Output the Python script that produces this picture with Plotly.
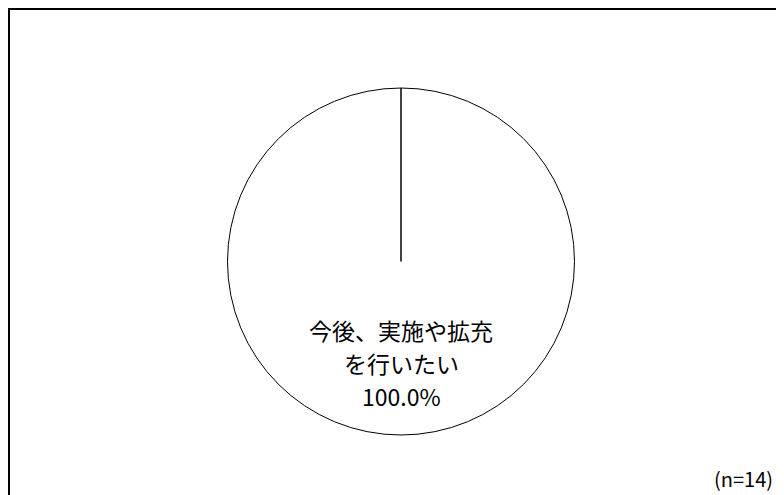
import plotly.graph_objects as go

categories = ["今後、実施や拡充を行いたい"]
values = [100.0]
label_lines = ["今後、実施や拡充", "を行いたい", "100.0%"]
sample_note = "(n=14)"

# page body adds an 8px offset; figure pixel = window pixel - 8
W, H = 784, 495
ML, MR, MT, MB = 2, 0, 80, 68

fig = go.Figure(go.Pie(
    labels=categories,
    values=values,
    sort=False,
    direction="clockwise",
    rotation=0,
    marker=dict(colors=["#ffffff"], line=dict(color="#000000", width=1)),
    textinfo="none",
    hoverinfo="label+percent",
    showlegend=False,
    domain=dict(x=[0, 1], y=[0, 1]),
))

font = "Noto Sans CJK JP, sans-serif"
plot_w = W - ML - MR
plot_h = H - MT - MB


def px_x(p):
    return (p - ML) / plot_w


def px_y(p):
    return (H - MB - p) / plot_h


ys = [322, 355, 388]
annotations = []
for line, ypix in zip(label_lines, ys):
    annotations.append(dict(
        text=line, x=0.5, xref="paper", y=px_y(ypix), yref="paper",
        showarrow=False, xanchor="center", yanchor="middle",
        font=dict(family=font, size=23, color="#000000"),
    ))
annotations.append(dict(
    text=sample_note, x=px_x(767), xref="paper",
    y=px_y(470), yref="paper",
    showarrow=False, xanchor="right", yanchor="middle",
    font=dict(family=font, size=20, color="#000000"),
))

shapes = [
    # slice boundary from pie centre to top
    dict(type="line", xref="paper", yref="paper", x0=0.5, x1=0.5, y0=0.5, y1=1.0,
         line=dict(color="#000000", width=1.5)),
    # outer frame
    dict(type="rect", xref="paper", yref="paper",
         x0=px_x(1), x1=px_x(W + 20),
         y0=px_y(H + 20), y1=px_y(1),
         line=dict(color="#000000", width=2), fillcolor="rgba(0,0,0,0)", layer="above"),
]

fig.update_layout(
    width=W, height=H,
    margin=dict(l=ML, r=MR, t=MT, b=MB),
    paper_bgcolor="#ffffff", plot_bgcolor="#ffffff",
    annotations=annotations, shapes=shapes,
)

fig.write_html("out.html")
